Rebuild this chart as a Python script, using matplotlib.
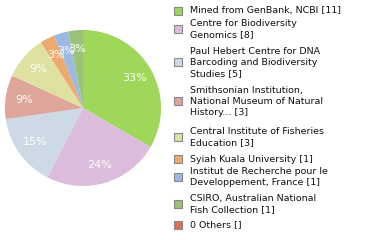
import matplotlib
matplotlib.use("Agg")
import matplotlib.pyplot as plt
from matplotlib.patches import Rectangle

# ---- data ----
labels = [
    "Mined from GenBank, NCBI [11]",
    "Centre for Biodiversity\nGenomics [8]",
    "Paul Hebert Centre for DNA\nBarcoding and Biodiversity\nStudies [5]",
    "Smithsonian Institution,\nNational Museum of Natural\nHistory... [3]",
    "Central Institute of Fisheries\nEducation [3]",
    "Syiah Kuala University [1]",
    "Institut de Recherche pour le\nDeveloppement, France [1]",
    "CSIRO, Australian National\nFish Collection [1]",
    "0 Others []",
]
values = [11, 8, 5, 3, 3, 1, 1, 1]
colors = ["#9fd75a", "#dcbcdc", "#cddae6", "#dea59b", "#dee1a0",
          "#eeaa6e", "#9bb9e1", "#9bc378", "#dd7055"]

# ---- layout ----
W, H = 380, 240
fig = plt.figure(figsize=(W / 100, H / 100), dpi=100)
cx, cy, R = 83, 108, 78
ax = fig.add_axes([(cx - R) / W, (H - cy - R) / H, 2 * R / W, 2 * R / H])
wedges, texts, autotexts = ax.pie(
    values, colors=colors[:len(values)], startangle=90, counterclock=False,
    autopct=lambda p: f"{round(p):d}%", pctdistance=0.76,
    textprops=dict(color="white", fontsize=8),
    wedgeprops=dict(linewidth=0))
ax.set_xlim(-1, 1)
ax.set_ylim(-1, 1)
ax.set_aspect("equal")
ax.axis("off")

# legend: first-line centre y (px from top) per entry
entry_y = [11, 23, 51, 90, 131, 159, 171, 198, 225]
line_h = 11.3
tx = 190
for lab, col, y0 in zip(labels, colors, entry_y):
    lines = lab.split("\n")
    for i, ln in enumerate(lines):
        fig.text(tx / W, 1 - (y0 + i * line_h) / H, ln, fontsize=6.8,
                 color="#111111", va="center", ha="left")
    ymid = y0 + (len(lines) - 1) * line_h / 2
    s = 8
    fig.patches.append(Rectangle((174 / W, 1 - (ymid + s / 2) / H), s / W, s / H,
                                 transform=fig.transFigure, facecolor=col,
                                 edgecolor="#888888", linewidth=0.8))

fig.savefig("out.png", dpi=100)
